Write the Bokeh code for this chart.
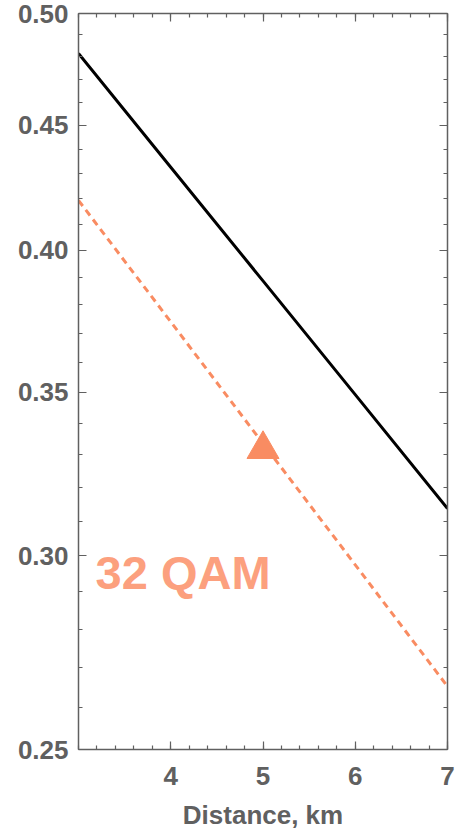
from bokeh.plotting import figure
from bokeh.models import FixedTicker, PrintfTickFormatter, LinearAxis, LogAxis, Label, Range1d
from bokeh.embed import file_html
from bokeh.resources import INLINE

# data
distance = [3, 4, 5, 6, 7]
black_curve = [0.4815, 0.4326, 0.3887, 0.3492, 0.3137]
qam32_curve = [0.4193, 0.3740, 0.3335, 0.2975, 0.2653]
marker_x = [5]
marker_y = [0.3317]
x_ticks = [4, 5, 6, 7]
x_minor = [round(3 + 0.2 * i, 1) for i in range(21)]
y_ticks = [0.25, 0.30, 0.35, 0.40, 0.45, 0.50]
y_minor = [round(0.25 + 0.01 * i, 2) for i in range(26)]
label_text = "32 QAM"

ORANGE = "#F98C62"
GREY = "#606060"
FONT = "Liberation Sans"

p = figure(width=458, height=833, output_backend="svg", toolbar_location=None,
           y_axis_type="log", x_range=Range1d(3, 7), y_range=Range1d(0.25, 0.50),
           min_border_left=78, min_border_right=11, min_border_top=13, min_border_bottom=84)
p.grid.visible = False
p.outline_line_color = None
p.background_fill_color = "white"

def style(ax, show_labels):
    ax.axis_line_color = GREY
    ax.axis_line_width = 1.5
    ax.major_tick_line_color = GREY
    ax.minor_tick_line_color = GREY
    ax.major_tick_line_width = 1.2
    ax.minor_tick_line_width = 1.2
    ax.major_tick_in = 8
    ax.major_tick_out = 0
    ax.minor_tick_in = 4
    ax.minor_tick_out = 0
    ax.major_label_text_font = FONT
    ax.major_label_text_font_style = "bold"
    ax.major_label_text_font_size = "26px"
    ax.major_label_text_color = GREY
    if not show_labels:
        ax.major_label_text_font_size = "0px"
        ax.major_label_text_alpha = 0

xt = FixedTicker(ticks=x_ticks, minor_ticks=x_minor)
yt = FixedTicker(ticks=y_ticks, minor_ticks=y_minor)

p.xaxis.ticker = xt
p.yaxis.ticker = yt
p.yaxis.formatter = PrintfTickFormatter(format="%.2f")
style(p.xaxis[0], True)
style(p.yaxis[0], True)
p.xaxis.major_label_standoff = 17
p.yaxis.major_label_standoff = 10
p.xaxis.axis_label = "Distance, km"
p.xaxis.axis_label_text_font = FONT
p.xaxis.axis_label_text_font_style = "bold"
p.xaxis.axis_label_text_font_size = "26px"
p.xaxis.axis_label_text_color = GREY
p.xaxis.axis_label_standoff = 12

top = LinearAxis(ticker=FixedTicker(ticks=x_ticks, minor_ticks=x_minor))
style(top, False)
p.add_layout(top, "above")
right = LogAxis(ticker=FixedTicker(ticks=y_ticks, minor_ticks=y_minor))
style(right, False)
p.add_layout(right, "right")

p.line(distance, black_curve, line_color="black", line_width=3)
p.line(distance, qam32_curve, line_color=ORANGE, line_width=3, line_dash="7 5")
p.scatter(marker_x, marker_y, marker="triangle", size=32, fill_color=ORANGE, line_color=ORANGE)

lab = Label(x=3.185, y=0.2954, text=label_text, text_font=FONT, text_font_style="bold",
            text_font_size="47px", text_color="#FCA07E", text_baseline="middle")
p.add_layout(lab)

open("out.html", "w").write(file_html(p, INLINE))
